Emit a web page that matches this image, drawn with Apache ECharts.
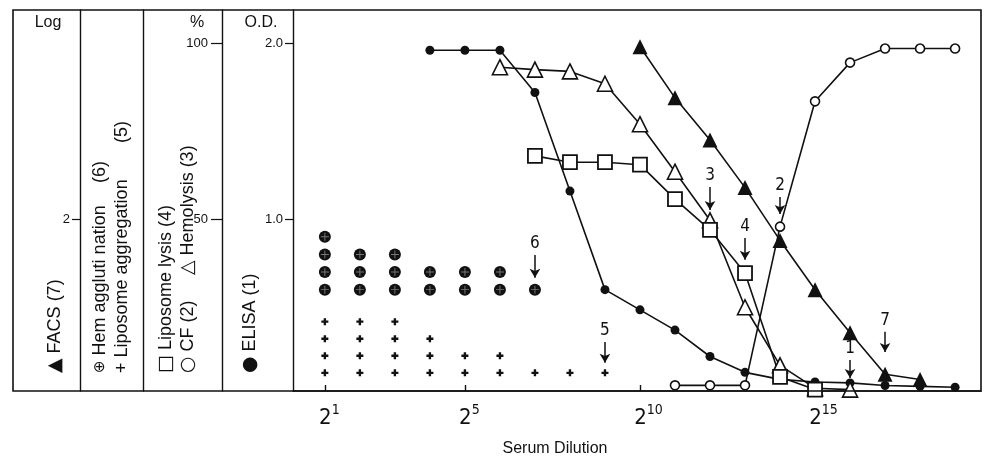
<!DOCTYPE html>
<html>
<head>
<meta charset="utf-8">
<title>Serum Dilution</title>
<script src="https://cdn.jsdelivr.net/npm/echarts@6/dist/echarts.min.js"></script>
<style>
  html, body { margin: 0; padding: 0; background: #fff; }
  #chart { width: 986px; height: 459px; }
</style>
</head>
<body>
<div id="chart"></div>
<script>
// x values are dilution exponents (2^n)
const xTicks = [1, 5, 10, 15];

// ELISA (1), O.D.
const elisaX = [4, 5, 6, 7, 8, 9, 10, 11, 12, 13, 14, 15, 16, 17, 18, 19];
const elisaOD = [1.96, 1.96, 1.96, 1.72, 1.16, 0.60, 0.485, 0.37, 0.22, 0.13, 0.09, 0.075, 0.07, 0.055, 0.05, 0.045];

// CF (2), %
const cfX = [11, 12, 13, 14, 15, 16, 17, 18, 19];
const cfPct = [2.8, 2.8, 2.8, 47.9, 83.5, 94.5, 98.5, 98.5, 98.5];

// Hemolysis (3), %
const hemolysisX = [6, 7, 8, 9, 10, 11, 12, 13, 14, 15, 16];
const hemolysisPct = [93.2, 92.5, 92, 88.5, 77, 63.5, 49.7, 25, 8.5, 2, 1.6];

// Liposome lysis (4), %
const lysisX = [7, 8, 9, 10, 11, 12, 13, 14, 15];
const lysisPct = [68, 66.2, 66.2, 65.5, 55.7, 47, 34.7, 5.2, 1.6];

// Liposome aggregation (5): number of + per dilution
const aggX = [1, 2, 3, 4, 5, 6, 7, 8, 9];
const aggCount = [4, 4, 4, 3, 2, 2, 1, 1, 1];

// Hemagglutination (6): number of circled plus per dilution
const hemaggX = [1, 2, 3, 4, 5, 6, 7];
const hemaggCount = [4, 3, 3, 2, 2, 2, 1];

// FACS (7), Log
const facsX = [10, 11, 12, 13, 14, 15, 16, 17, 18];
const facsLog = [3.96, 3.38, 2.9, 2.36, 1.76, 1.2, 0.71, 0.24, 0.18];

// end-point arrows (O.D. scale)
const arrowNames = ['1', '2', '3', '4', '5', '6', '7'];
const arrowX = [16, 14, 12, 13, 9, 7, 17];
const arrowTop = [0.20, 1.127, 1.183, 0.894, 0.303, 0.797, 0.36];
const arrowTip = [0.098, 1.03, 1.053, 0.77, 0.184, 0.667, 0.246];

const FONT = '"Liberation Sans", "DejaVu Sans", Arial, sans-serif';
const COND = '"DejaVu Sans Condensed", ' + FONT;

const pair = (xs, ys) => xs.map((x, i) => [x, ys[i]]);
const stackDots = (xs, counts, base, step) => {
  const out = [];
  xs.forEach((x, i) => {
    for (let k = 0; k < counts[i]; k++) out.push([x, base + k * step]);
  });
  return out;
};

const hemaggDots = stackDots(hemaggX, hemaggCount, 0.60, 0.1);
const aggDots = stackDots(aggX, aggCount, 0.127, 0.097);

const plusPath = 'path://M3.3,0H6.7V3.3H10V6.7H6.7V10H3.3V6.7H0V3.3H3.3Z';
const thinPlus = 'path://M4.4,0H5.6V4.4H10V5.6H5.6V10H4.4V5.6H0V4.4H4.4Z';

const lineStyle = { color: '#111', width: 1.6 };

// rotated legend text (reads bottom to top)
const legendRich = {
  t: { fontSize: 18, fontFamily: FONT, color: '#111' },
  m: { fontSize: 19, fontFamily: '"DejaVu Sans", sans-serif', color: '#111' },
  ms: { fontSize: 15, fontFamily: '"DejaVu Sans", sans-serif', color: '#111' }
};
const legendText = (x, y, text) => ({
  type: 'text', x: x, y: y, rotation: Math.PI / 2,
  style: { text: text, rich: legendRich, font: '18px ' + FONT, fill: '#111', textAlign: 'left', textVerticalAlign: 'middle' }
});

const chart = echarts.init(document.getElementById('chart'));

const yBase = {
  type: 'value',
  position: 'left',
  splitLine: { show: false },
  axisLine: { show: true, lineStyle: { color: '#111', width: 1.4 } },
  axisTick: { show: true, length: 9, lineStyle: { color: '#111', width: 1.2 } },
  axisLabel: { color: '#111', fontSize: 13, fontFamily: FONT, margin: 11 }
};

chart.setOption({
  animation: false,
  backgroundColor: '#fff',
  grid: { left: 293, right: 5, top: 10, bottom: 68, show: false },
  xAxis: {
    type: 'value',
    min: 0.09,
    max: 19.74,
    splitLine: { show: false },
    axisLine: { show: true, lineStyle: { color: '#111', width: 1.6 } },
    axisTick: { show: true, inside: true, length: 6, customValues: xTicks, lineStyle: { color: '#111', width: 1.4 } },
    axisLabel: {
      customValues: xTicks,
      margin: 12,
      // pad left by the superscript width so the "2" sits centred on the tick
      formatter: v => (v < 10 ? '{p1|}' : '{p2|}') + '{b|2}{s|' + v + '}',
      rich: {
        p1: { width: 9, height: 10 },
        p2: { width: 17, height: 10 },
        b: { fontSize: 22, fontFamily: COND, color: '#111', lineHeight: 26, verticalAlign: 'bottom' },
        s: { fontSize: 14, fontFamily: COND, color: '#111', lineHeight: 26, verticalAlign: 'top', padding: [0, 0, 8, 0] }
      }
    }
  },
  yAxis: [
    Object.assign({}, yBase, {
      min: 0.024, max: 2.189,
      axisTick: Object.assign({}, yBase.axisTick, { customValues: [1, 2], length: 8 }),
      axisLabel: Object.assign({}, yBase.axisLabel, { customValues: [1, 2], margin: 10, formatter: v => v.toFixed(1) })
    }),
    Object.assign({}, yBase, {
      min: 1.2, max: 109.45, offset: 71,
      axisTick: Object.assign({}, yBase.axisTick, { customValues: [50, 100], length: 11 }),
      axisLabel: Object.assign({}, yBase.axisLabel, { customValues: [50, 100], margin: 14 })
    }),
    Object.assign({}, yBase, {
      min: 0.049, max: 4.378, offset: 213,
      axisTick: Object.assign({}, yBase.axisTick, { customValues: [2], length: 8 }),
      axisLabel: Object.assign({}, yBase.axisLabel, { customValues: [2], margin: 10 })
    }),
    Object.assign({}, yBase, {
      min: 0, max: 1, offset: 150,
      axisTick: { show: false },
      axisLabel: { show: false }
    })
  ],
  graphic: [
    { type: 'rect', shape: { x: 13, y: 10, width: 968, height: 381 }, style: { fill: 'none', stroke: '#111', lineWidth: 1.6 }, z: 10 },
    { type: 'text', x: 48, y: 23, style: { text: 'Log', font: '16px ' + FONT, fill: '#111', textAlign: 'center', textVerticalAlign: 'middle' } },
    { type: 'text', x: 197, y: 23, style: { text: '%', font: '16px ' + FONT, fill: '#111', textAlign: 'center', textVerticalAlign: 'middle' } },
    { type: 'text', x: 261, y: 23, style: { text: 'O.D.', font: '16px ' + FONT, fill: '#111', textAlign: 'center', textVerticalAlign: 'middle' } },
    legendText(55, 373, '{m|\u25B2}{t| FACS (7)}'),
    legendText(100, 373, '{ms|\u2295}{t| Hem aggluti nation}'),
    legendText(100, 183, '{t|(6)}'),
    legendText(122, 373, '{t|+ Liposome aggregation}'),
    legendText(122, 143, '{t|(5)}'),
    legendText(166, 373, '{m|\u25A1}{t| Liposome lysis (4)}'),
    legendText(188, 373, '{m|\u25CB}{t| CF (2)}'),
    legendText(188, 275, '{m|\u25B3}{t| Hemolysis (3)}'),
    legendText(250, 373, '{m|\u25CF}{t| ELISA (1)}'),
    { type: 'text', x: 555, y: 449, style: { text: 'Serum Dilution', font: '16px ' + FONT, fill: '#111', textAlign: 'center', textVerticalAlign: 'middle' } }
  ],
  series: [
    {
      name: 'ELISA (1)',
      type: 'line',
      yAxisIndex: 0,
      data: pair(elisaX, elisaOD),
      symbol: 'circle',
      symbolSize: 9,
      itemStyle: { color: '#111' },
      lineStyle: lineStyle,
      z: 3,
      markLine: {
        silent: true,
        symbol: ['none', 'arrow'],
        symbolSize: [8, 9],
        lineStyle: { color: '#111', width: 1.5, type: 'solid' },
        label: { show: true, position: 'start', formatter: '{b}', fontSize: 17, fontFamily: COND, color: '#111', distance: 3 },
        emphasis: { disabled: true },
        data: arrowNames.map((n, i) => [
          { name: n, coord: [arrowX[i], arrowTop[i]] },
          { coord: [arrowX[i], arrowTip[i]] }
        ])
      }
    },
    {
      name: 'CF (2)',
      type: 'line',
      yAxisIndex: 1,
      data: pair(cfX, cfPct),
      symbol: 'circle',
      symbolSize: 9,
      itemStyle: { color: '#fff', borderColor: '#111', borderWidth: 1.6 },
      lineStyle: lineStyle,
      z: 4
    },
    {
      name: 'Hemolysis (3)',
      type: 'line',
      yAxisIndex: 1,
      data: pair(hemolysisX, hemolysisPct),
      symbol: 'triangle',
      symbolSize: 15,
      itemStyle: { color: '#fff', borderColor: '#111', borderWidth: 1.6 },
      lineStyle: lineStyle,
      z: 4
    },
    {
      name: 'Liposome lysis (4)',
      type: 'line',
      yAxisIndex: 1,
      data: pair(lysisX, lysisPct),
      symbol: 'rect',
      symbolSize: 14,
      itemStyle: { color: '#fff', borderColor: '#111', borderWidth: 1.8 },
      lineStyle: lineStyle,
      z: 4
    },
    {
      name: 'Liposome aggregation (5)',
      type: 'scatter',
      yAxisIndex: 0,
      data: aggDots,
      symbol: plusPath,
      symbolSize: 7,
      itemStyle: { color: '#111', opacity: 1 }
    },
    {
      name: 'Hem agglutination (6)',
      type: 'scatter',
      yAxisIndex: 0,
      data: hemaggDots,
      symbol: 'circle',
      symbolSize: 12,
      itemStyle: { color: '#111', opacity: 1 },
      z: 3
    },
    {
      name: 'Hem agglutination cross',
      type: 'scatter',
      yAxisIndex: 0,
      data: hemaggDots,
      symbol: thinPlus,
      symbolSize: 8,
      itemStyle: { color: '#777', opacity: 1 },
      z: 4
    },
    {
      name: 'FACS (7)',
      type: 'line',
      yAxisIndex: 2,
      data: pair(facsX, facsLog),
      symbol: 'triangle',
      symbolSize: 15,
      itemStyle: { color: '#111' },
      lineStyle: lineStyle,
      z: 5
    }
  ]
});
</script>
</body>
</html>
